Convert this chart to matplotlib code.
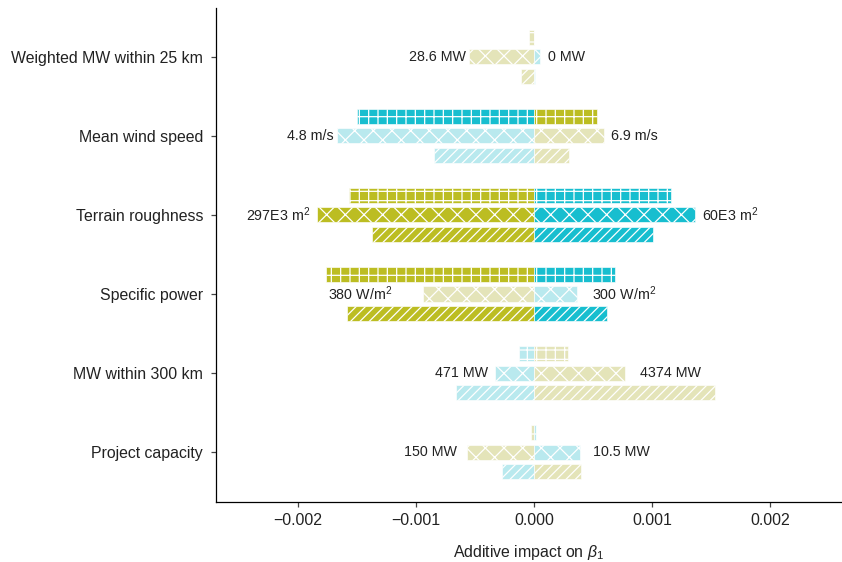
import matplotlib
matplotlib.use("Agg")
import matplotlib.pyplot as plt
import numpy as np

plt.rcParams['font.family'] = ['Liberation Sans', 'DejaVu Sans']
plt.rcParams['mathtext.fontset'] = 'custom'
plt.rcParams['mathtext.rm'] = 'Liberation Sans'
plt.rcParams['mathtext.it'] = 'Liberation Sans:italic'
plt.rcParams['hatch.linewidth'] = 0.8

categories = ["Weighted MW within 25 km", "Mean wind speed", "Terrain roughness",
              "Specific power", "MW within 300 km", "Project capacity"]

# top row (+), middle row (x), bottom row (/): negative and positive parts
neg_top = [-0.000045, -0.00150, -0.00157, -0.00176, -0.000125, -0.00003]
pos_top = [0.0, 0.00053, 0.00116, 0.00069, 0.00029, 0.000015]
neg_mid = [-0.00055, -0.00167, -0.00184, -0.00094, -0.00033, -0.00057]
pos_mid = [0.00005, 0.00059, 0.00136, 0.00036, 0.00077, 0.00039]
neg_bot = [-0.00011, -0.00085, -0.00137, -0.00159, -0.00066, -0.00027]
pos_bot = [0.00001, 0.00030, 0.00101, 0.00062, 0.00153, 0.00040]

# colour codes: c = cyan, o = olive, l = light
col_neg_top = ["ol", "c", "o", "o", "cl", "ol"]
col_pos_top = ["cl", "o", "c", "c", "ol", "cl"]
col_neg_mid = ["ol", "cl", "o", "ol", "cl", "ol"]
col_pos_mid = ["cl", "ol", "c", "cl", "ol", "cl"]
col_neg_bot = ["ol", "cl", "o", "o", "cl", "cl"]
col_pos_bot = ["cl", "ol", "c", "c", "ol", "ol"]

left_labels = ["28.6 MW", "4.8 m/s", "297E3 m$^2$", "380 W/m$^2$", "471 MW", "150 MW"]
right_labels = ["0 MW", "6.9 m/s", "60E3 m$^2$", "300 W/m$^2$", "4374 MW", "10.5 MW"]
pad_left = [2, 2.5, 4, 20, 4.5, 6.5]
pad_right = [5, 5, 4.5, 10, 9.5, 8.5]

palette = {"c": "#17becf", "o": "#bcbd22", "cl": "#b9e9ee", "ol": "#e4e4b9"}

fig = plt.figure(figsize=(842 / 112, 562 / 112), dpi=112)
ax = fig.add_axes([0.256, 0.107, 0.744, 0.879])

y = np.arange(len(categories))
h = 0.19
rows = [(neg_top, pos_top, col_neg_top, col_pos_top, -0.25, '++'),
        (neg_mid, pos_mid, col_neg_mid, col_pos_mid, 0.0, 'xx'),
        (neg_bot, pos_bot, col_neg_bot, col_pos_bot, 0.25, '////')]
for neg, pos, cn, cp, off, hatch in rows:
    ax.barh(y + off, neg, height=h, color=[palette[c] for c in cn],
            edgecolor='white', linewidth=0.4, hatch=hatch)
    ax.barh(y + off, pos, height=h, color=[palette[c] for c in cp],
            edgecolor='white', linewidth=0.4, hatch=hatch)

for i in range(len(categories)):
    ax.annotate(left_labels[i], (neg_mid[i], y[i]), xytext=(-pad_left[i], 0),
                textcoords='offset points', ha='right', va='center', fontsize=9.2,
                color='#222222')
    ax.annotate(right_labels[i], (pos_mid[i], y[i]), xytext=(pad_right[i], 0),
                textcoords='offset points', ha='left', va='center', fontsize=9.2,
                color='#222222')

ax.set_yticks(y)
ax.set_yticklabels(categories, fontsize=10.2, color='#222222')
ax.set_ylim(5.63, -0.62)
ax.set_xlim(-0.0027, 0.00261)
ax.set_xticks([-0.002, -0.001, 0.0, 0.001, 0.002])
ax.set_xticklabels(["\u22120.002", "\u22120.001", "0.000", "0.001", "0.002"],
                   fontsize=10.2, color='#222222')
ax.set_xlabel(r"Additive impact on $\beta_1$", fontsize=10.2, color='#222222', labelpad=10)
ax.spines['top'].set_visible(False)
ax.spines['right'].set_visible(False)
ax.tick_params(axis='both', length=3.5, width=0.8, color='#444444')
ax.tick_params(axis='y', pad=4.5)

fig.savefig("out.png", dpi=112)
